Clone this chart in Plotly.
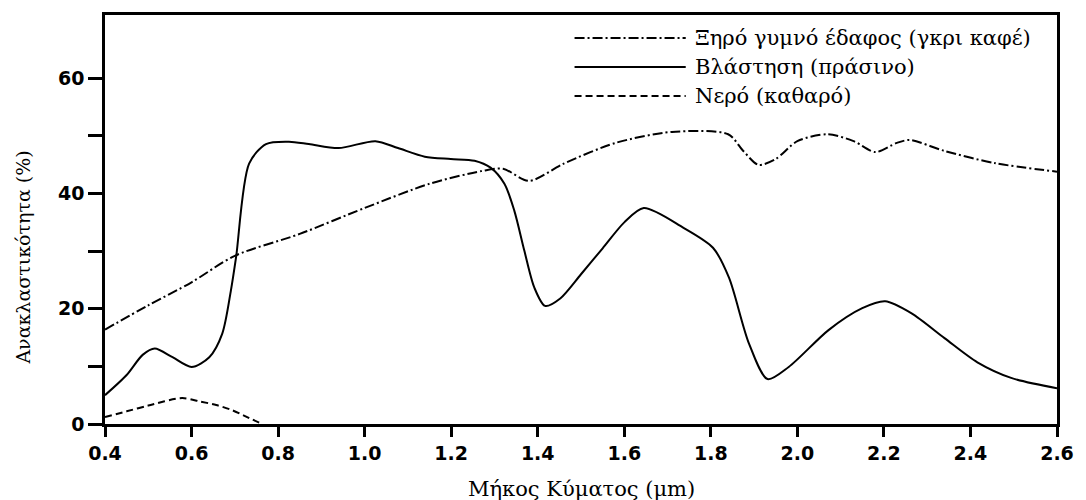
import plotly.graph_objects as go

# Wavelength (µm) and reflectance (%)
soil_x = [0.40, 0.50, 0.60, 0.70, 0.85, 1.00, 1.15, 1.27, 1.32, 1.38, 1.46, 1.58, 1.71, 1.84, 1.875, 1.91, 1.95, 2.00, 2.07, 2.13, 2.18, 2.23, 2.26, 2.34, 2.455, 2.60]
soil_y = [16.4, 20.6, 24.6, 29.2, 33.0, 37.5, 41.7, 43.9, 44.3, 42.2, 45.2, 48.8, 50.7, 50.3, 47.4, 45.0, 46.0, 49.1, 50.3, 49.1, 47.2, 48.8, 49.3, 47.4, 45.3, 43.8]

veg_x = [0.40, 0.45, 0.487, 0.515, 0.556, 0.60, 0.641, 0.671, 0.691, 0.703, 0.733, 0.772, 0.825, 0.871, 0.94, 1.025, 1.077, 1.139, 1.199, 1.254, 1.291, 1.323, 1.346, 1.369, 1.392, 1.417, 1.452, 1.50, 1.55, 1.60, 1.645, 1.736, 1.805, 1.842, 1.888, 1.931, 1.98, 2.072, 2.15, 2.203, 2.264, 2.34, 2.416, 2.494, 2.60]
veg_y = [5.0, 8.5, 12.0, 13.1, 11.6, 9.9, 11.6, 15.7, 23.2, 29.0, 45.2, 48.6, 49.0, 48.6, 47.9, 49.1, 47.9, 46.4, 46.0, 45.7, 44.5, 41.7, 37.0, 30.1, 23.7, 20.5, 21.8, 26.0, 30.5, 35.0, 37.5, 34.1, 30.6, 25.4, 14.0, 7.8, 9.9, 16.3, 20.1, 21.3, 19.2, 14.9, 10.7, 8.0, 6.2]

water_x = [0.40, 0.45, 0.50, 0.578, 0.62, 0.657, 0.694, 0.72, 0.763]
water_y = [1.2, 2.2, 3.2, 4.5, 3.9, 3.3, 2.4, 1.5, 0.0]

series_names = ["Ξηρό γυμνό έδαφος (γκρι καφέ)", "Βλάστηση (πράσινο)", "Νερό (καθαρό)"]
series_dash = ["10px,3px,2px,3px", "solid", "7px,4px"]

x_ticks = [0.4, 0.6, 0.8, 1.0, 1.2, 1.4, 1.6, 1.8, 2.0, 2.2, 2.4, 2.6]
x_tick_text = ["0.4", "0.6", "0.8", "1.0", "1.2", "1.4", "1.6", "1.8", "2.0", "2.2", "2.4", "2.6"]
y_ticks = [0, 10, 20, 30, 40, 50, 60]
y_tick_text = ["0", "", "20", "", "40", "", "60"]

x_title = "Μήκος Κύματος (μm)"
y_title = "Ανακλαστικότητα (%)"

fig = go.Figure()
data = [(soil_x, soil_y), (veg_x, veg_y), (water_x, water_y)]
for (xs, ys), name, dash in zip(data, series_names, series_dash):
    fig.add_trace(go.Scatter(x=xs, y=ys, mode="lines", name=name,
                             line=dict(color="black", width=2, dash=dash, shape="spline", smoothing=0.8),
                             showlegend=False))

# custom legend (long line samples like the reference)
W, H = 1086, 500
L, R, T, B = 105, 22, 15, 76
pw, ph = W - L - R, H - T - B
def px2paper_x(px):
    return (px - L) / pw
def px2paper_y(py):
    return (H - B - py) / ph

legend_rows = [38, 67, 96]
for name, dash, row in zip(series_names, series_dash, legend_rows):
    fig.add_shape(type="line", xref="paper", yref="paper",
                  x0=px2paper_x(578), x1=px2paper_x(690),
                  y0=px2paper_y(row), y1=px2paper_y(row),
                  line=dict(color="black", width=2, dash=dash))
    fig.add_annotation(xref="paper", yref="paper", x=px2paper_x(697), y=px2paper_y(row),
                       text=name, showarrow=False, xanchor="left", yanchor="middle",
                       font=dict(family="DejaVu Serif", size=21, color="black"))

fig.add_annotation(xref="paper", yref="paper", x=px2paper_x(22), y=px2paper_y(258),
                   text=y_title, textangle=-90, showarrow=False,
                   xanchor="center", yanchor="middle",
                   font=dict(family="DejaVu Serif", size=19, color="black"))
fig.add_annotation(xref="paper", yref="paper", x=0.5, y=px2paper_y(489),
                   text=x_title, showarrow=False, xanchor="center", yanchor="middle",
                   font=dict(family="DejaVu Serif", size=21, color="black"))

axis_common = dict(showline=True, linecolor="black", linewidth=2.5, mirror=True,
                   showgrid=False, zeroline=False, ticks="outside", tickcolor="black",
                   tickwidth=2.5, tickfont=dict(family="DejaVu Sans", size=19, color="black", weight="bold"))

fig.update_xaxes(range=[0.4, 2.6], tickvals=x_ticks, ticktext=x_tick_text, ticklen=10, **axis_common)
fig.update_yaxes(range=[0, 71], tickvals=y_ticks, ticktext=y_tick_text, ticklen=14, **axis_common)

fig.update_layout(width=W, height=H, margin=dict(l=L, r=R, t=T, b=B),
                  plot_bgcolor="white", paper_bgcolor="white", showlegend=False)

fig.write_html("out.html")
